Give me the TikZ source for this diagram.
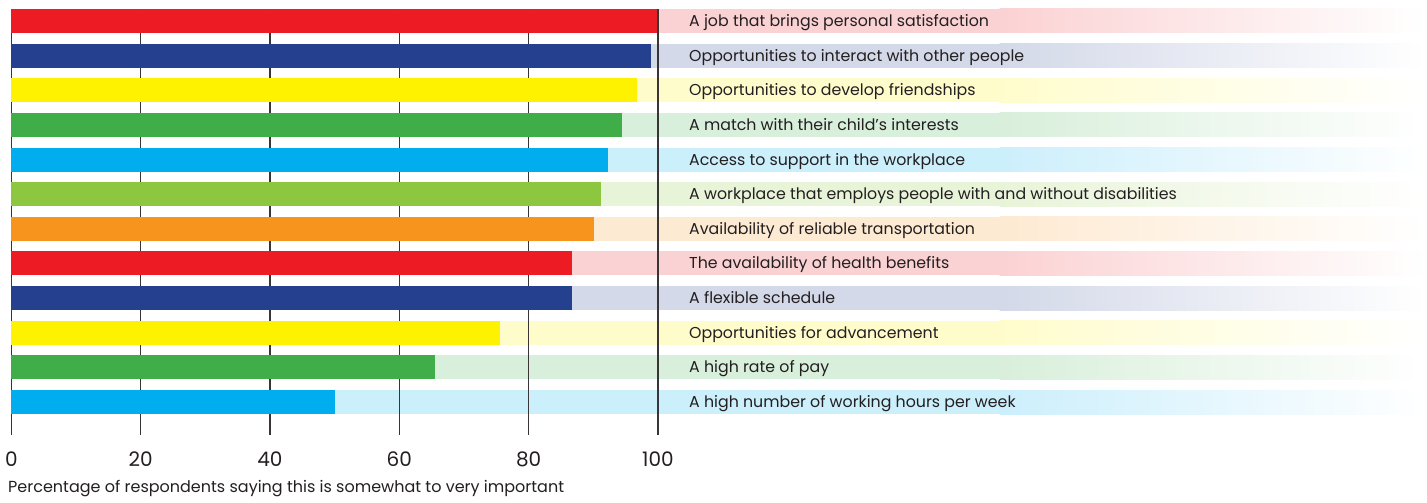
\documentclass[tikz,border=0pt]{standalone}
\usepackage{fontspec}
\setmainfont{Poppins}
\usetikzlibrary{positioning}
\definecolor{cred}{RGB}{237, 28, 36}
\definecolor{cblue}{RGB}{37, 64, 143}
\definecolor{cyellow}{RGB}{255, 242, 0}
\definecolor{cgreen}{RGB}{63, 174, 73}
\definecolor{ccyan}{RGB}{0, 174, 239}
\definecolor{clime}{RGB}{141, 198, 63}
\definecolor{corange}{RGB}{247, 148, 29}
\definecolor{ink}{RGB}{35, 31, 32}

\begin{document}
\begin{tikzpicture}[x=1pt, y=-1pt,
    grid/.style={ink!90, line width=1.4},
    label/.style={anchor=base west, inner sep=0, text=ink, font=\fontsize{15.8}{18}\selectfont},
    tick/.style={anchor=base, inner sep=0, text=ink, font=\fontsize{20}{24}\selectfont}]
  \pgfmathsetmacro{\W}{6.467};
  \pgfmathsetmacro{\H}{34.64};
  \useasboundingbox (0, 0) rectangle (1427, 503);

  % Light bands behind the bars
  \foreach \n/\v/\c in {1/100/cred, 2/98.9/cblue, 3/96.8/cyellow, 4/94.4/cgreen,
                        5/92.3/ccyan, 6/91.2/clime, 7/90.1/corange, 8/86.7/cred,
                        9/86.7/cblue, 10/75.6/cyellow, 11/65.5/cgreen, 12/50/ccyan} {
    \pgfmathsetmacro{\yt}{9 + (\n - 1) * \H};
    \pgfmathsetmacro{\xe}{11.3 + \W * \v};
    \fill[\c!20!white] (\xe, \yt) rectangle (1000, \yt + 24);
    \shade[left color=\c!20!white, right color=white] (999.5, \yt) rectangle (1426, \yt + 24);
  }

  % Grid
  \foreach \t in {0, 20, ..., 80} {
    \draw[grid] ({11.3 + \W * \t}, 9) -- ({11.3 + \W * \t}, 435);
  }

  % Bars
  \foreach \n/\v/\c in {1/100/cred, 2/98.9/cblue, 3/96.8/cyellow, 4/94.4/cgreen,
                        5/92.3/ccyan, 6/91.2/clime, 7/90.1/corange, 8/86.7/cred,
                        9/86.7/cblue, 10/75.6/cyellow, 11/65.5/cgreen, 12/50/ccyan} {
    \pgfmathsetmacro{\yt}{9 + (\n - 1) * \H};
    \pgfmathsetmacro{\xe}{11.3 + \W * \v};
    \fill[\c] (11.3, \yt) rectangle (\xe, \yt + 24);
  }

  \draw[grid] ({11.3 + \W * 100}, 9) -- ({11.3 + \W * 100}, 435);

  % Labels
  \foreach \n/\s in {1/A job that brings personal satisfaction,
                     2/Opportunities to interact with other people,
                     3/Opportunities to develop friendships,
                     4/A match with their child’s interests,
                     5/Access to support in the workplace,
                     6/A workplace that employs people with and without disabilities,
                     7/Availability of reliable transportation,
                     8/The availability of health benefits,
                     9/A flexible schedule,
                     10/Opportunities for advancement,
                     11/A high rate of pay,
                     12/A high number of working hours per week} {
    \node[label] (lab\n) at (689, {26.5 + (\n - 1) * \H}) {\s};
  }

  % Axis
  \foreach \t in {0, 20, ..., 100} {
    \node[tick] (tick\t) at ({11.3 + \W * \t}, 466) {\t};
  }
  \node[anchor=base west, inner sep=0, text=ink, font=\fontsize{16}{19}\selectfont]
    (caption) at (8, 492.7) {Percentage of respondents saying this is somewhat to very important};
\end{tikzpicture}
\end{document}
